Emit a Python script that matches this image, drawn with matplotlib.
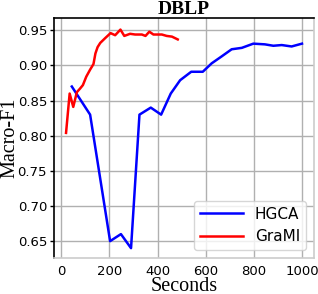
import matplotlib
matplotlib.use("Agg")
import matplotlib.pyplot as plt

title = "DBLP"
xlabel = "Seconds"
ylabel = "Macro-F1"

hgca_x = [44, 120, 203, 248, 290, 325, 372, 415, 455, 494, 540, 588, 625, 667, 708, 750, 798, 846, 881, 916, 957, 1000]
hgca_y = [0.870, 0.830, 0.650, 0.660, 0.640, 0.830, 0.840, 0.830, 0.860, 0.879, 0.891, 0.891, 0.903, 0.913,
          0.923, 0.925, 0.931, 0.930, 0.928, 0.929, 0.927, 0.931]

grami_x = [20, 35, 50, 65, 78, 90, 104, 120, 134, 142, 151, 162, 183, 205, 224, 246, 262, 286, 307, 335,
           350, 366, 383, 418, 438, 460, 484]
grami_y = [0.804, 0.860, 0.841, 0.862, 0.867, 0.872, 0.884, 0.894, 0.902, 0.917, 0.926, 0.932, 0.939, 0.946,
           0.943, 0.951, 0.942, 0.945, 0.944, 0.944, 0.942, 0.948, 0.944, 0.944, 0.942, 0.941, 0.937]

xticks = [0, 200, 400, 600, 800, 1000]
yticks = [0.65, 0.70, 0.75, 0.80, 0.85, 0.90, 0.95]

fig = plt.figure(figsize=(3.18, 2.94), dpi=100)
ax = fig.add_axes([54 / 318, 1 - 258 / 294, (314 - 54) / 318, (258 - 18) / 294])

ax.plot(hgca_x, hgca_y, color="#0000ff", lw=1.8, label="HGCA")
ax.plot(grami_x, grami_y, color="#ff0000", lw=1.8, label="GraMI")

ax.set_xlim(-30, 1050)
ax.set_ylim(0.626, 0.9675)
ax.set_xticks(xticks)
ax.set_yticks(yticks)
ax.set_yticklabels([f"{v:.2f}" for v in yticks])
ax.grid(True, color="#b0b0b0", lw=1.0)
ax.set_axisbelow(True)

for s in ["top", "left"]:
    ax.spines[s].set_color("black")
    ax.spines[s].set_linewidth(1.2)
for s in ["bottom", "right"]:
    ax.spines[s].set_color("#cccccc")
    ax.spines[s].set_linewidth(1.2)

ax.tick_params(axis="both", labelsize=9.5, direction="out", length=3, width=1)
ax.tick_params(axis="y", pad=2)
ax.tick_params(axis="x", length=0, pad=5)

serif = ["Liberation Serif", "DejaVu Serif"]
ax.set_title(title, fontsize=14, fontweight="bold", family=serif, pad=2)
ax.set_xlabel(xlabel, fontsize=14.5, family=serif, labelpad=-1)
ax.set_ylabel(ylabel, fontsize=14.5, family=serif, labelpad=-1)

ax.legend(loc="lower right", fontsize=11, frameon=True, edgecolor="#cccccc",
          handlelength=2.8, borderaxespad=0.5)

fig.savefig("out.png", dpi=100)
